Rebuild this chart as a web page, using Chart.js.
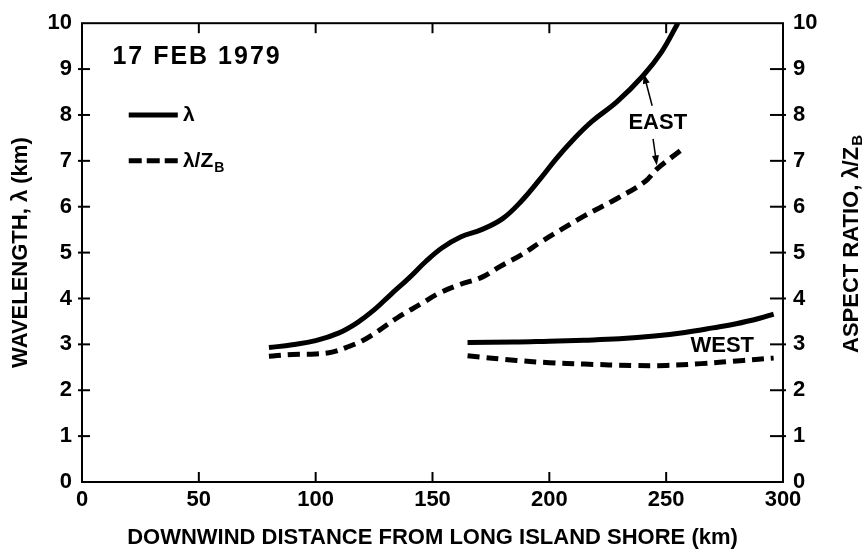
<!DOCTYPE html>
<html>
<head>
<meta charset="utf-8">
<script src="https://cdn.jsdelivr.net/npm/chart.js@4.4.1/dist/chart.umd.min.js"></script>
<style>
    body { margin: 0; background: #fff; }
</style>
</head>
<body>
<canvas id="graficoOndas" width="866" height="551"></canvas>
<script>
// distancia (km) e valores
const distanciaLesteLambda = [80, 90, 100, 110, 118, 125, 132, 140, 147, 154, 162, 171, 180, 188, 196, 203, 210, 218, 229, 240, 248, 255];
const lesteLambda = [2.93, 2.99, 3.08, 3.25, 3.48, 3.75, 4.08, 4.45, 4.80, 5.10, 5.34, 5.50, 5.74, 6.12, 6.60, 7.05, 7.45, 7.85, 8.29, 8.85, 9.37, 10.0];

const distanciaLesteRazao = [80, 90, 100, 107, 113, 120, 127, 135, 145, 153, 162, 171, 179, 188, 196, 205, 215, 229, 241, 246, 256];
const lesteRazao = [2.74, 2.78, 2.79, 2.83, 2.93, 3.08, 3.30, 3.58, 3.88, 4.12, 4.31, 4.46, 4.70, 4.95, 5.22, 5.50, 5.80, 6.18, 6.55, 6.82, 7.22];

const distanciaOesteLambda = [165, 185, 200, 215, 230, 245, 258, 270, 280, 290, 296];
const oesteLambda = [3.04, 3.05, 3.07, 3.09, 3.12, 3.18, 3.26, 3.36, 3.45, 3.57, 3.66];

const distanciaOesteRazao = [165, 186, 200, 215, 236, 250, 265, 283, 296];
const oesteRazao = [2.75, 2.65, 2.60, 2.57, 2.54, 2.54, 2.58, 2.65, 2.70];

const ticksX = [0, 50, 100, 150, 200, 250, 300];
const ticksY = [0, 1, 2, 3, 4, 5, 6, 7, 8, 9, 10];

const fonte = "'Liberation Sans', Arial, sans-serif";

function pontos(xs, ys) {
    return xs.map((x, i) => ({ x: x, y: ys[i] }));
}

function linha(ctx, x1, y1, x2, y2) {
    ctx.beginPath();
    ctx.moveTo(x1, y1);
    ctx.lineTo(x2, y2);
    ctx.stroke();
}

function seta(ctx, x1, y1, x2, y2) {
    const ang = Math.atan2(y2 - y1, x2 - x1);
    ctx.lineWidth = 1.5;
    linha(ctx, x1, y1, x2 - 6 * Math.cos(ang), y2 - 6 * Math.sin(ang));
    ctx.beginPath();
    ctx.moveTo(x2, y2);
    ctx.lineTo(x2 - 10 * Math.cos(ang) + 3.5 * Math.sin(ang), y2 - 10 * Math.sin(ang) - 3.5 * Math.cos(ang));
    ctx.lineTo(x2 - 10 * Math.cos(ang) - 3.5 * Math.sin(ang), y2 - 10 * Math.sin(ang) + 3.5 * Math.cos(ang));
    ctx.closePath();
    ctx.fill();
}

const anotacoes = {
    id: 'anotacoes',
    afterDraw(chart) {
        const ctx = chart.ctx;
        const area = chart.chartArea;
        const escalaX = chart.scales.x;
        const escalaY = chart.scales.y;
        const px = v => escalaX.getPixelForValue(v);
        const py = v => escalaY.getPixelForValue(v);
        ctx.save();
        ctx.strokeStyle = '#000';
        ctx.fillStyle = '#000';

        // moldura e marcas para dentro
        ctx.lineWidth = 2;
        ctx.strokeRect(area.left, area.top, area.right - area.left, area.bottom - area.top);
        escalaX.ticks.forEach(t => {
            if (t.value <= escalaX.min || t.value >= escalaX.max) return;
            const x = px(t.value);
            linha(ctx, x, area.bottom, x, area.bottom - 10);
            linha(ctx, x, area.top, x, area.top + 10);
        });
        escalaY.ticks.forEach(t => {
            if (t.value <= escalaY.min || t.value >= escalaY.max) return;
            const y = py(t.value);
            linha(ctx, area.left - 4, y, area.left + 8, y);
            linha(ctx, area.right - 13, y, area.right + 3, y);
        });

        // data
        ctx.font = 'bold 25px ' + fonte;
        ctx.textAlign = 'left';
        ctx.textBaseline = 'middle';
        ctx.letterSpacing = '2px';
        ctx.fillText('17 FEB 1979', px(13), py(9.26));
        ctx.letterSpacing = '0px';

        // legenda
        ctx.lineWidth = 5;
        linha(ctx, px(20), py(8), px(41), py(8));
        ctx.setLineDash([13, 5]);
        linha(ctx, px(20), py(7), px(41), py(7));
        ctx.setLineDash([]);
        ctx.font = 'bold 21px ' + fonte;
        ctx.fillText('λ', px(43.2), py(8));
        ctx.fillText('λ/Z', px(43.2), py(7));
        const larguraZ = ctx.measureText('λ/Z').width;
        ctx.font = 'bold 14px ' + fonte;
        ctx.fillText('B', px(43.2) + larguraZ + 1, py(7) + 7);

        // leste e oeste
        ctx.font = 'bold 22px ' + fonte;
        ctx.textAlign = 'center';
        ctx.fillText('EAST', px(246.4), py(7.83));
        ctx.fillText('WEST', px(274), py(2.97));
        seta(ctx, px(244), py(8.2), px(240.4), py(8.9));
        seta(ctx, px(244.4), py(7.48), px(246), py(6.9));

        // titulo do eixo direito
        ctx.translate(852, 244);
        ctx.rotate(-Math.PI / 2);
        ctx.font = 'bold 22px ' + fonte;
        const principal = 'ASPECT RATIO, λ/Z';
        const larguraPrincipal = ctx.measureText(principal).width;
        ctx.font = 'bold 15px ' + fonte;
        const larguraB = ctx.measureText('B').width;
        const inicio = -(larguraPrincipal + larguraB + 1) / 2;
        ctx.textAlign = 'left';
        ctx.font = 'bold 22px ' + fonte;
        ctx.fillText(principal, inicio, 0);
        ctx.font = 'bold 15px ' + fonte;
        ctx.fillText('B', inicio + larguraPrincipal + 1, 6);
        ctx.restore();
    }
};

const fonteTicks = { family: fonte, size: 22, weight: 'bold' };

const graficoOndas = new Chart(document.getElementById('graficoOndas'), {
    type: 'line',
    data: {
        datasets: [
            { label: 'East λ', data: pontos(distanciaLesteLambda, lesteLambda) },
            { label: 'East λ/ZB', data: pontos(distanciaLesteRazao, lesteRazao), borderDash: [12, 7] },
            { label: 'West λ', data: pontos(distanciaOesteLambda, oesteLambda) },
            { label: 'West λ/ZB', data: pontos(distanciaOesteRazao, oesteRazao), borderDash: [12, 7] }
        ]
    },
    options: {
        responsive: false,
        animation: false,
        layout: { padding: { top: 21, left: 0, right: 0, bottom: 0 } },
        elements: {
            line: { borderColor: '#000', borderWidth: 5, tension: 0.4, borderCapStyle: 'butt', fill: false },
            point: { radius: 0 }
        },
        plugins: {
            legend: { display: false },
            tooltip: { enabled: false }
        },
        scales: {
            x: {
                type: 'linear',
                min: 0,
                max: 300,
                afterBuildTicks: s => { s.ticks = ticksX.map(v => ({ value: v })); },
                afterFit: s => { s.height = 69; },
                grid: { display: false, drawTicks: false },
                border: { display: false },
                ticks: { color: '#000', font: fonteTicks, padding: 5, maxRotation: 0 },
                title: {
                    display: true,
                    text: 'DOWNWIND DISTANCE FROM LONG ISLAND SHORE (km)',
                    color: '#000',
                    font: { family: fonte, size: 22, weight: 'bold' },
                    padding: { top: 0, bottom: 0 }
                }
            },
            y: {
                min: 0,
                max: 10,
                afterBuildTicks: s => { s.ticks = ticksY.map(v => ({ value: v })); },
                afterFit: s => { s.width = 82; },
                grid: { display: false, drawTicks: false },
                border: { display: false },
                ticks: { color: '#000', font: fonteTicks, padding: 10 },
                title: {
                    display: true,
                    text: 'WAVELENGTH, λ (km)',
                    color: '#000',
                    font: { family: fonte, size: 22, weight: 'bold' },
                    padding: { top: 8, bottom: 0 }
                }
            },
            y2: {
                position: 'right',
                min: 0,
                max: 10,
                afterBuildTicks: s => { s.ticks = ticksY.map(v => ({ value: v })); },
                afterFit: s => { s.width = 83; },
                grid: { display: false, drawTicks: false },
                border: { display: false },
                ticks: { color: '#000', font: fonteTicks, padding: 10 }
            }
        }
    },
    plugins: [anotacoes]
});
</script>
</body>
</html>
